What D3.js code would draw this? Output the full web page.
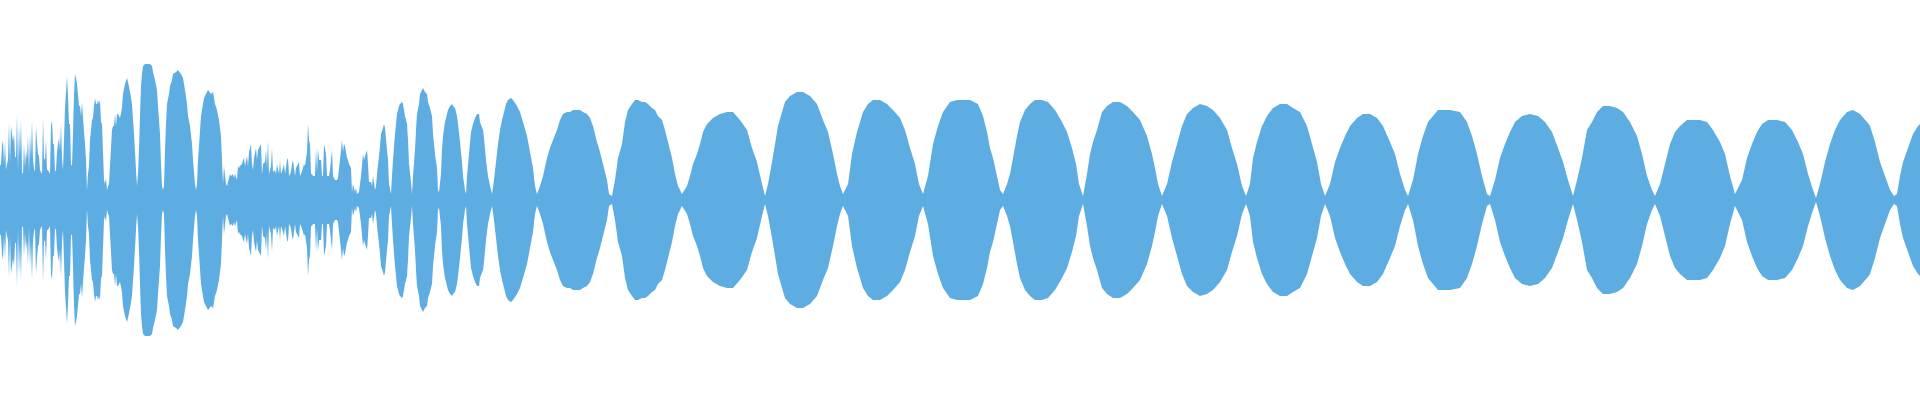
<!DOCTYPE html>
<html>
<head>
<meta charset="utf-8">
<script src="https://cdn.jsdelivr.net/npm/d3@7"></script>
<style>
  html, body { margin: 0; padding: 0; background: #fff; }
  svg { display: block; }
</style>
</head>
<body>
<div id="wave_container"></div>
<script>
var width = 1920;
var height = 400;
var waveColor = "#5dade2";

// peak amplitude (% of full scale) for frames 0..119, one per frame
var introPeaks = [17,18,27,30,18,29,15,18,20,39, 18,37,33,29,33,22,21,43,15,37,
    22,40,14,13,28,16,25,20,32,14, 33,21,40,20,16,14,37,29,23,22,
    15,14,13,41,21,20,30,15,15,14, 13,37,40,28,28,14,15,24,28,31,
    25,38,21,15,30,46,54,62,52,38, 38,18,17,33,53,63,61,58,53,47,
    47,42,49,41,34,28,20,5,13,17, 30,35,40,41,47,51,48,48,50,48,
    50,39,38,24,10,8,11,5,7,8, 17,26,35,37,37,43,37,43,43,42];

// [frame, peak %]
var burstPeaks = [[120,41],[122,46],[123,53],[125,58],[127,61],[128,59],[130,54],[132,48],[134,33],[135,24],[136,15],[137,7],
    [138,13],[139,25],[140,42],[141,57],[142,63],[143,67],[145,68],[148,68],[150,68],[152,67],[153,64],[155,60],[157,55],[158,47],[160,33],[161,18],[162,7],[163,5],
    [164,7],[165,25],[166,38],[167,48],[169,53],[170,57],[172,60],[173,63],[176,64],[178,65],[181,63],[183,61],[185,55],[187,48],[188,42],[190,37],[192,28],[193,20],[195,8],[196,5],
    [197,8],[198,20],[199,27],[201,42],[203,48],[204,51],[206,53],[208,55],[211,53],[213,54],[215,48],[217,45],[219,40],[221,32],[222,20],[223,8],[224,17],
    [226,8],[227,7],[230,13],[231,12],[233,13],[234,11],[235,13],[237,10],[238,17],[239,16]];

var chatterPeaks = [[240,17],[242,18],[243,20],[244,21],[245,17],[247,22],[248,17],[249,24],[251,28],[252,18],[253,15],[254,21],
    [256,26],[257,20],[258,25],[260,27],[261,28],[262,13],[263,18],[265,19],[266,25],[267,16],[268,30],[269,13],[271,17],[272,26],
    [273,14],[275,15],[276,13],[277,18],[279,13],[280,20],[281,13],[283,16],[284,18],[285,13],[287,20],[288,21],[289,12],[291,14],
    [292,18],[293,20],[295,12],[296,16],[297,17],[299,19],[300,12],[301,13],[303,16],[304,18],[305,17],[307,24],[308,38],[309,30],
    [310,28],[311,13],[312,13],[313,12],[315,12],[316,26],[317,14],[318,26],[319,20],[321,20],[322,12],[323,12],[324,28],[326,23],
    [327,12],[328,12],[329,12],[330,15],[331,20],[332,25],[333,12],[334,11],[335,10],[337,10],[338,11],[339,16],[340,20],[342,30],
    [343,24],[344,28],[345,27],[347,21],[348,20],[349,18],[351,16],[352,4],[353,8],[355,4],[356,6],[357,3],[359,4]];

var rampPeaks = [[360,8],[361,12],[363,23],[364,20],[365,22],[367,25],[368,18],[369,9],[371,9],[372,7],[373,12],[375,5],[376,7],
    [377,13],[379,22],[380,27],[381,33],[383,36],[384,38],[385,36],[387,25],[388,20],[389,8],[391,3],
    [392,12],[393,20],[395,33],[396,38],[397,43],[399,47],[400,48],[402,49],[403,48],[405,42],[407,38],[408,30],[409,18],[411,9],[412,3],
    [413,12],[415,25],[416,35],[417,43],[419,48],[420,53],[422,55],[423,56],[425,54],[427,53],[428,49],[430,46],[432,42],[433,33],[435,23],[437,16],[438,5],[439,4],
    [441,13],[442,25],[443,32],[445,39],[447,43],[448,45],[450,47],[452,48],[453,47],[455,46],[457,42],[458,38],[460,29],[462,19],[463,12],[465,5],[466,3],
    [467,12],[469,23],[471,34],[473,38],[475,41],[477,43],[479,43],[480,39],[483,35],[484,31],[486,20],[488,12],[490,7],[492,3]];

var tonePeaks = [[494,10],[496,19],[498,28],[500,35],[502,40],[504,44],[506,48],[508,50],[511,51],[513,50],[517,47],[520,44],[523,39],[527,32],[530,24],[533,16],[535,7],[537,3],
    [540,7],[543,12],[547,21],[550,26],[553,30],[557,35],[560,40],[563,43],[567,44],[570,44],[573,45],[577,45],[580,45],[583,44],[587,43],[590,41],[593,37],[597,29],[600,24],[603,18],[607,10],[609,3],[612,2],
    [615,10],[618,21],[622,28],[625,39],[628,45],[632,48],[635,50],[638,50],[642,49],[645,49],[648,48],[652,46],[655,45],[658,42],[662,40],[665,35],[668,29],[672,21],[675,13],[678,7],[682,3],
    [687,7],[690,12],[693,18],[697,23],[700,28],[703,34],[707,38],[713,41],[720,43],[727,44],[733,44],[740,40],[747,35],[752,26],[757,19],[762,8],[765,2],
    [768,8],[772,19],[775,28],[778,37],[782,44],[785,49],[790,52],[797,54],[803,54],[810,52],[817,48],[823,40],[828,34],[833,23],[837,13],[840,7],[843,3],
    [848,8],[852,23],[857,34],[860,39],[863,44],[868,48],[873,50],[880,50],[887,48],[893,45],[900,41],[905,35],[910,26],[915,18],[919,8],[923,3],
    [928,12],[933,28],[938,37],[943,44],[950,49],[957,50],[960,50],[970,50],[978,48],[983,42],[987,34],[990,26],[993,21],[997,12],[1000,5],[1003,3],
    [1007,8],[1010,13],[1013,21],[1017,32],[1020,39],[1025,45],[1030,48],[1035,50],[1042,50],[1048,49],[1055,45],[1062,39],[1067,34],[1072,26],[1076,18],[1079,8],[1083,2],
    [1087,13],[1090,23],[1093,29],[1097,35],[1102,44],[1107,47],[1113,49],[1120,49],[1127,47],[1133,44],[1140,40],[1147,32],[1152,23],[1155,16],[1158,8],[1162,2],
    [1167,8],[1172,19],[1177,28],[1182,37],[1187,43],[1193,46],[1200,48],[1207,47],[1213,45],[1220,41],[1227,35],[1232,26],[1237,18],[1242,7],[1246,2],
    [1250,8],[1253,21],[1257,29],[1262,37],[1267,42],[1273,46],[1280,48],[1287,48],[1293,46],[1300,44],[1307,37],[1312,28],[1317,19],[1321,8],[1325,2],
    [1330,8],[1335,19],[1340,26],[1345,32],[1350,37],[1357,41],[1363,43],[1370,43],[1377,41],[1383,37],[1390,29],[1395,23],[1400,13],[1405,5],[1408,2],
    [1413,10],[1418,23],[1423,32],[1428,39],[1433,42],[1438,45],[1440,45],[1450,45],[1460,44],[1467,39],[1472,32],[1477,23],[1482,12],[1487,3],[1490,2],
    [1495,10],[1500,21],[1505,28],[1510,34],[1515,39],[1522,42],[1530,43],[1538,42],[1545,39],[1552,34],[1558,26],[1563,19],[1568,10],[1573,2],
    [1578,12],[1582,21],[1587,35],[1592,39],[1597,44],[1603,47],[1610,47],[1617,46],[1623,44],[1630,39],[1637,32],[1642,23],[1647,12],[1652,5],[1655,2],
    [1660,8],[1665,18],[1670,28],[1675,34],[1680,37],[1687,40],[1693,40],[1700,40],[1707,39],[1713,35],[1720,29],[1725,23],[1730,12],[1735,3],
    [1742,10],[1747,21],[1752,28],[1757,34],[1762,38],[1768,40],[1777,40],[1785,39],[1792,35],[1798,29],[1803,23],[1808,13],[1813,5],[1816,1],
    [1820,8],[1825,19],[1830,28],[1835,35],[1840,40],[1847,44],[1853,45],[1860,43],[1867,39],[1870,37],[1875,29],[1880,19],[1885,12],[1890,5],[1894,2],
    [1897,3],[1900,12],[1903,19],[1908,26],[1913,33],[1918,37],[1920,38]];

var peaks = introPeaks.map((p, i) => [i, p])
    .concat(burstPeaks, chatterPeaks, rampPeaks, tonePeaks);

var svg = d3.select("#wave_container")
    .append("svg")
    .attr("width", width)
    .attr("height", height);

var x = d3.scaleLinear()
    .domain([0, 1920])
    .range([0, width]);

var y = d3.scaleLinear()
    .domain([-100, 100])
    .range([height, 0]);

var wave = d3.area()
    .curve(d3.curveLinear)
    .x(d => x(d[0]))
    .y0(d => y(-d[1]))
    .y1(d => y(d[1]));

svg.append("path")
    .datum(peaks)
    .attr("class", "wave")
    .attr("fill", waveColor)
    .attr("d", wave);
</script>
</body>
</html>
